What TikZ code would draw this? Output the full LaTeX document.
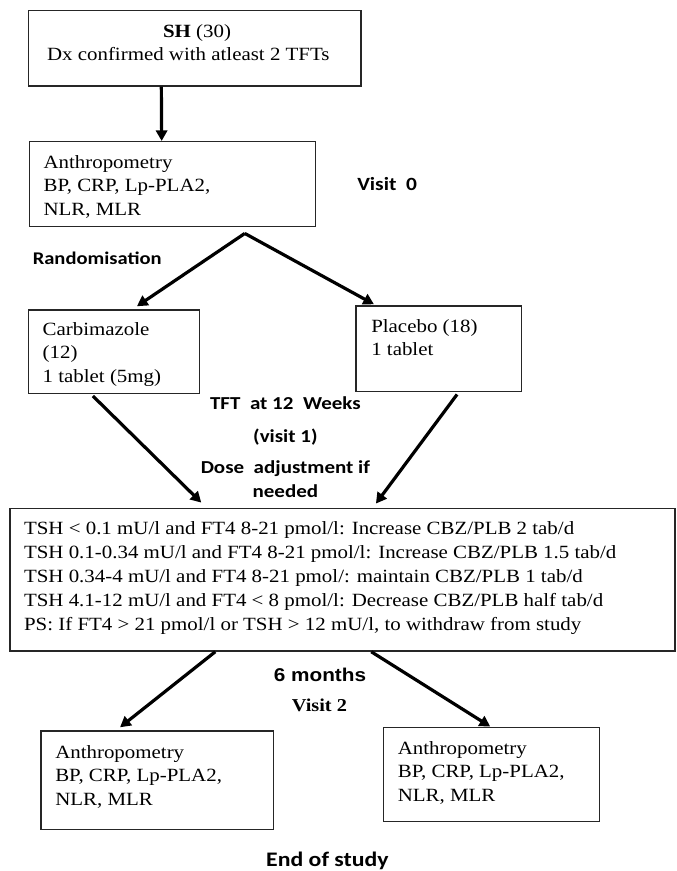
\documentclass[tikz,border=0pt]{standalone}
\usepackage{fontspec}
\setmainfont[FakeStretch=1.12]{Liberation Serif}
\newfontfamily\labfont[FakeStretch=1.15]{Carlito}
\newfontfamily\arialfont[FakeStretch=1.12]{Liberation Sans}
\usetikzlibrary{arrows.meta,calc,fit}
\begin{document}
\begin{tikzpicture}[x=0.75pt,y=-0.75pt,
  box/.style={draw=black!85,line width=1.1pt,inner sep=0pt,fill=none},
  txt/.style={anchor=base west,align=left,inner sep=0pt,font=\fontsize{14}{17.6}\selectfont},
  bigtxt/.style={anchor=base west,align=left,inner sep=0pt,font=\fontsize{14}{18}\selectfont},
  lab/.style={inner sep=0pt,font=\labfont\bfseries\fontsize{13.7}{16}\selectfont},
  arr/.style={line width=2.4pt,-{Triangle[length=8pt,width=8.5pt]}}]
\useasboundingbox (0,0) rectangle (676,871);
% boxes
\node[box,fit={(28.6,10.3) (360.8,86)}] (sh) {};
\node[box,fit={(29.5,141.7) (315.7,226.7)}] (anth) {};
\node[box,fit={(28.6,310) (199.7,393.3)}] (carb) {};
\node[box,fit={(356,306) (521.4,391.7)}] (plac) {};
\node[box,fit={(10,508.3) (675.2,651)}] (big) {};
\node[box,fit={(41.1,731) (273.3,829.3)}] (endl) {};
\node[box,fit={(383.7,727.3) (599.4,821.7)}] (endr) {};
% box texts (base = baseline of last line)
\node[txt,anchor=base] (shA) at (197,37) {\textbf{SH} (30)};
\node[txt] (shB) at (46.8,60) {Dx confirmed with atleast 2 TFTs};
\node[txt] (anthT) at (43.3,215) {Anthropometry\\BP, CRP, Lp-PLA2,\\NLR, MLR};
\node[txt] (carbT) at (42.4,382) {Carbimazole\\(12)\\1 tablet (5mg)};
\node[txt] (placT) at (371,355.5) {Placebo (18)\\1 tablet};
\node[bigtxt] (bigT) at (23.8,630) {TSH < 0.1 mU/l and FT4 8-21 pmol/l: Increase CBZ/PLB 2 tab/d\\
TSH 0.1-0.34 mU/l and FT4 8-21 pmol/l: Increase CBZ/PLB 1.5 tab/d\\
TSH 0.34-4 mU/l and FT4 8-21 pmol/: maintain CBZ/PLB 1 tab/d\\
TSH 4.1-12 mU/l and FT4 < 8 pmol/l: Decrease CBZ/PLB half tab/d\\
PS: If FT4 > 21 pmol/l or TSH > 12 mU/l, to withdraw from study};
\node[txt] (endlT) at (55,805) {Anthropometry\\BP, CRP, Lp-PLA2,\\NLR, MLR};
\node[txt] (endrT) at (397.6,801) {Anthropometry\\BP, CRP, Lp-PLA2,\\NLR, MLR};
% labels
\node[lab,anchor=base west,font=\labfont\bfseries\fontsize{14}{16}\selectfont] (v0) at (357,190) {Visit\ \ 0};
\node[lab,anchor=base west,font=\labfont\bfseries\fontsize{13.4}{16}\selectfont] (rand) at (32.5,264) {Randomisation};
\node[lab,anchor=base] (tft) at (285.4,409) {TFT\ \ at 12\ \ Weeks};
\node[lab,anchor=base] (v1) at (285.4,442) {(visit 1)};
\node[lab,anchor=base] (dose) at (285.4,473) {Dose\ \ adjustment if};
\node[lab,anchor=base] (need) at (285.4,497) {needed};
\node[inner sep=0pt,anchor=base,font=\arialfont\bfseries\fontsize{13.9}{16}\selectfont] (six) at (320,681) {6 months};
\node[inner sep=0pt,anchor=base,font=\bfseries\fontsize{13.6}{16}\selectfont] (v2) at (319.4,711) {Visit 2};
\node[lab,anchor=base,font=\labfont\bfseries\fontsize{15.5}{18}\selectfont] (eos) at (327.4,866) {End of study};
% connectors
\draw[arr] ($(sh.south west)!0.40!(sh.south east)$) -- ($(anth.north west)!0.462!(anth.north east)$);
\coordinate (apex) at ($(anth.south west)!0.751!(anth.south east)+(0,6)$);
\draw[arr,line join=miter] (apex) -- ($(carb.north west)!0.632!(carb.north east)+(0,-3)$);
\draw[arr,line join=miter] (apex) -- ($(plac.north west)!0.112!(plac.north east)+(0,-1)$);
\draw[arr] ($(carb.south west)!0.377!(carb.south east)+(0,2)$) -- ($(big.north west)!0.288!(big.north east)+(0,-5)$);
\draw[arr] ($(plac.south west)!0.61!(plac.south east)+(0,2)$) -- ($(big.north west)!0.55!(big.north east)+(0,-4)$);
\draw[arr] ($(big.south west)!0.309!(big.south east)$) -- ($(endl.north west)!0.341!(endl.north east)+(0,-3)$);
\draw[arr] ($(big.south west)!0.543!(big.south east)$) -- ($(endr.north west)!0.494!(endr.north east)$);
\end{tikzpicture}
\end{document}
